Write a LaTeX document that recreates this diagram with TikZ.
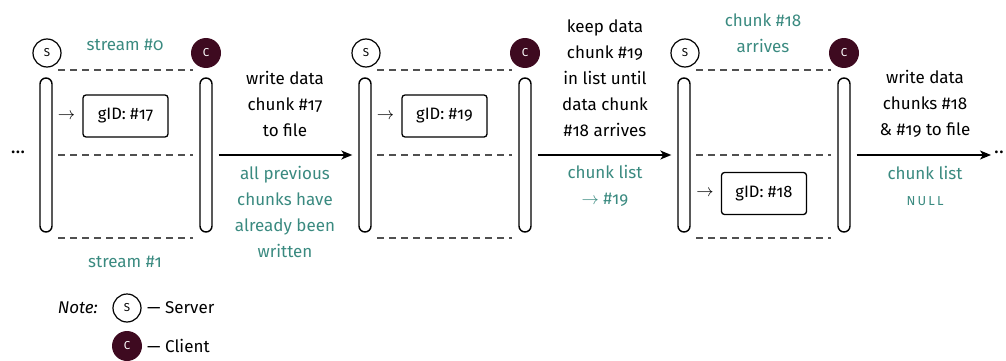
\documentclass[tikz,border=0pt]{standalone}
\usepackage{fontspec}
\setmainfont{Fira Sans}[Numbers=OldStyle]
\usetikzlibrary{arrows.meta}
\definecolor{tealc}{RGB}{58,138,128}
\definecolor{clientc}{RGB}{62,10,32}
\definecolor{dashc}{RGB}{80,80,80}
\tikzset{
  txt/.style={font=\fontsize{17}{26}\selectfont, align=center, inner sep=0pt},
  tealtxt/.style={txt, text=tealc},
  pill/.style={draw, line width=1.4pt, minimum width=12pt, minimum height=154pt, rounded corners=6pt, inner sep=0pt},
  srv/.style={circle, draw, line width=1.2pt, minimum size=28pt, inner sep=0pt, font=\fontsize{11.5}{11}\selectfont},
  cli/.style={circle, fill=clientc, text=white, minimum size=30pt, inner sep=0pt, font=\fontsize{11.5}{11}\selectfont},
  gbox/.style={draw, line width=1.3pt, rounded corners=3pt, minimum width=85pt, minimum height=42pt, inner sep=0pt, font=\fontsize{16.5}{18}\selectfont},
  dashl/.style={draw=dashc, line width=1.3pt, dash pattern=on 7pt off 5pt},
  arr/.style={-{Stealth[length=11pt,width=9pt,inset=3pt]}, line width=1.4pt, shorten <=6pt, shorten >=6pt},
  dots/.style={font=\fontsize{20}{20}\selectfont, inner sep=0pt},
}
\begin{document}
\begin{tikzpicture}[x=1pt,y=-1pt]
\useasboundingbox (0,0) rectangle (1006,361);
\foreach \i/\dx in {1/0,2/319,3/638}{
  \node[srv] (s\i) at (47+\dx,53) {S};
  \node[cli] (c\i) at (206+\dx,53) {C};
  \node[pill] (l\i) at (46+\dx,155) {};
  \node[pill] (r\i) at (206+\dx,155) {};
  \draw[dashl] (58+\dx,70) -- (193+\dx,70);
  \draw[dashl] (58+\dx,155) -- (193+\dx,155);
  \draw[dashl] (58+\dx,238) -- (193+\dx,238);
}
% boxes
\node[gbox] (g1) at (125.5,116) {gID: \#17};
\node[txt, anchor=east] (a1) at ([xshift=-7pt]g1.west) {$\rightarrow$};
\node[gbox] (g2) at (444.5,116) {gID: \#19};
\node[txt, anchor=east] (a2) at ([xshift=-7pt]g2.west) {$\rightarrow$};
\node[gbox] (g3) at (764,193.5) {gID: \#18};
\node[txt, anchor=east] (a3) at ([xshift=-7pt]g3.west) {$\rightarrow$};
% stream labels
\node[tealtxt] (st0) at (125,45) {stream \#0};
\node[tealtxt] (st1) at (125,262) {stream \#1};
\node[tealtxt] (arr18) at (763,33) {chunk \#18\\arrives};
% dots
\node[dots] (dl) at (18,152) {...};
\node[dots, anchor=west] (dr) at (994,152) {..};
\coordinate (aend) at (991,155);
% arrows
\draw[arr] (r1) -- (l2);
\draw[arr] (r2) -- (l3);
\draw[arr, shorten >=0pt] (r3) -- (aend);
\node[txt] (t1) at (285,104) {write data\\chunk \#17\\to file};
\node[txt] (t2) at (605,78) {keep data\\chunk \#19\\in list until\\data chunk\\\#18 arrives};
\node[txt] (t3) at (925,104) {write data\\chunks \#18\\\& \#19 to file};
\node[tealtxt] (b1) at (285,212) {all previous\\chunks have\\already been\\written};
\node[tealtxt] (b2) at (605,186) {chunk list\\$\rightarrow$ \#19};
\node[tealtxt] (b3) at (925,186) {chunk list\\{\fontsize{13}{26}\selectfont N\,U\,L\,L}};
% legend
\node[txt, anchor=east, font=\fontsize{17}{18}\itshape] (note) at (98,308) {Note:};
\node[srv] (ls) at (127,308) {S};
\node[txt, anchor=west] (lst) at (147,308) {— Server};
\node[cli] (lc) at (127,346) {C};
\node[txt, anchor=west] (lct) at (147,346) {— Client};
\end{tikzpicture}
\end{document}
